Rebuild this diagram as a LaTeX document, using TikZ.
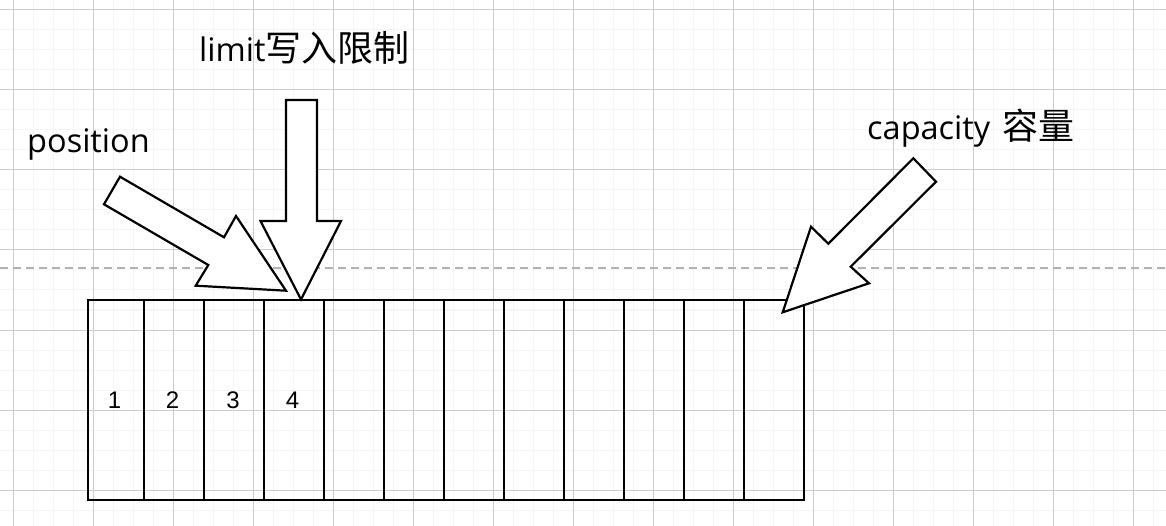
\documentclass[tikz,border=0pt]{standalone}
\usepackage{fontspec}
\setmainfont{Open Sans}
\newfontfamily\cjk{Noto Sans CJK SC}
\newfontfamily\digitfont{Liberation Sans}
\begin{document}
\begin{tikzpicture}[x=1pt,y=-1pt,
  minorgrid/.style={color=black!4,line width=1pt},
  majorgrid/.style={color=black!20,line width=1pt},
  cell/.style={draw=black,line width=2.4pt,minimum height=200pt,inner sep=0pt,outer sep=0pt,
    font=\digitfont\fontsize{24}{24}\selectfont},
  blockarrow/.style={draw=black,fill=white,line width=2.2pt,line join=miter},
  lbl/.style={inner sep=0pt,anchor=base west,font=\fontsize{32.5}{32.5}\selectfont}]
\useasboundingbox (0,0) rectangle (1166,526);
\fill[white] (0,0) rectangle (1166,526);
% grid
\foreach \x in {13,33,...,1153} \draw[minorgrid] (\x,0) -- (\x,526);
\foreach \y in {10,30,...,510} \draw[minorgrid] (0,\y) -- (1166,\y);
\foreach \x in {13,93,...,1153} \draw[majorgrid] (\x,0) -- (\x,526);
\foreach \y in {10,90,...,490} \draw[majorgrid] (0,\y) -- (1166,\y);
% dashed line
\draw[color=black!30,line width=2pt,dash pattern=on 8pt off 5pt] (0,268.5) -- (1166,268.5);
% cells
\node[cell,minimum width=56pt] (c1) at (116,400) {\hspace{-3pt}1};
\node[cell,minimum width=60pt] (c2) at (174,400) {\hspace{-3pt}2};
\node[cell,minimum width=60pt] (c3) at (234,400) {\hspace{-2pt}3};
\node[cell,minimum width=60pt] (c4) at (294,400) {\hspace{-3pt}4};
\foreach \i/\x in {5/354,6/414,7/474,8/534,9/594,10/654,11/714,12/774}
  \node[cell,minimum width=60pt] (c\i) at (\x,400) {};
% block arrows
\draw[blockarrow] (120,176.7) -- (224,237.3) -- (236,216) -- (286,290.7)
  -- (195.7,285.7) -- (208.3,265) -- (104,204.3) -- cycle;
\draw[blockarrow] (286,100) -- (317,100) -- (317,221) -- (341,221) -- (301,299.5)
  -- (260.5,221) -- (286,221) -- cycle;
\draw[blockarrow] (913.3,158.3) -- (936,181.7) -- (850.7,266.7) -- (869,283.3)
  -- (782.7,312.3) -- (811,226.7) -- (828.3,243.7) -- cycle;
% labels
\node[lbl] (pos) at (27,153) {position};
\node[lbl] (lim) at (199,62) {limit{\cjk\fontsize{36}{36}\selectfont 写入限制}};
\node[lbl] (cap) at (867,140) {capacity\hspace{12pt}{\cjk\fontsize{36}{36}\selectfont 容量}};
\end{tikzpicture}
\end{document}
